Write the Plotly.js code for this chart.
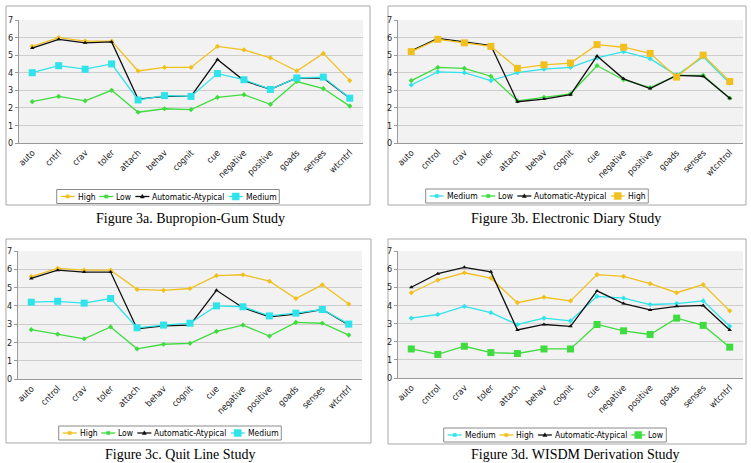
<!DOCTYPE html>
<html>
<head>
<meta charset="utf-8">
<script src="https://cdn.plot.ly/plotly-3.0.1.min.js"></script>
<style>
html,body{margin:0;padding:0;background:#fff;}
#chart{width:751px;height:463px;}
</style>
</head>
<body>
<div id="chart"></div>
<script>
// ---------- data ----------
const catsA = ['auto','cntrl','crav','toler','attach','behav','cognit','cue','negative','positive','goads','senses','wtcntrl'];
const catsB = ['auto','cntrol','crav','toler','attach','behav','cognit','cue','negative','positive','goads','senses','wtcntrol'];
const catsC = ['auto','cntrol','crav','toler','attach','behav','cognit','cue','negative','positive','goads','senses','wtcntrl'];
const catsD = ['auto','cntrol','crav','toler','attach','behav','cognit','cue','negative','positive','goads','senses','wtcntrl'];

// Figure 3a. Bupropion-Gum Study
const aHigh   = [5.5, 6.0, 5.8, 5.8, 4.1, 4.3, 4.3, 5.5, 5.3, 4.85, 4.1, 5.1, 3.55];
const aLow    = [2.35, 2.65, 2.4, 3.0, 1.75, 1.95, 1.9, 2.6, 2.75, 2.2, 3.5, 3.1, 2.1];
const aAuto   = [5.4, 5.9, 5.7, 5.75, 2.5, 2.65, 2.65, 4.75, 3.55, 3.05, 3.7, 3.7, 2.55];
const aMedium = [4.0, 4.4, 4.2, 4.5, 2.45, 2.7, 2.65, 3.95, 3.6, 3.05, 3.7, 3.75, 2.55];

// Figure 3b. Electronic Diary Study
const bMedium = [3.3, 4.05, 4.0, 3.55, 4.0, 4.2, 4.3, 4.85, 5.2, 4.8, 3.85, 4.9, 3.4];
const bLow    = [3.55, 4.3, 4.25, 3.8, 2.4, 2.6, 2.8, 4.4, 3.6, 3.15, 3.85, 3.85, 2.55];
const bAuto   = [5.25, 5.95, 5.75, 5.55, 2.35, 2.5, 2.75, 4.95, 3.65, 3.1, 3.85, 3.8, 2.55];
const bHigh   = [5.2, 5.9, 5.7, 5.5, 4.25, 4.45, 4.55, 5.6, 5.45, 5.1, 3.75, 5.0, 3.5];

// Figure 3c. Quit Line Study
const cHigh   = [5.6, 6.05, 5.95, 5.95, 4.9, 4.85, 4.95, 5.65, 5.7, 5.35, 4.4, 5.15, 4.1];
const cLow    = [2.7, 2.45, 2.2, 2.85, 1.65, 1.9, 1.95, 2.6, 2.95, 2.35, 3.1, 3.05, 2.4];
const cAuto   = [5.5, 5.95, 5.85, 5.85, 2.75, 2.9, 2.95, 4.85, 3.9, 3.4, 3.55, 3.8, 2.95];
const cMedium = [4.2, 4.25, 4.15, 4.4, 2.8, 2.95, 3.05, 4.0, 3.95, 3.45, 3.6, 3.8, 3.0];

// Figure 3d. WISDM Derivation Study
const dMedium = [3.3, 3.5, 3.95, 3.6, 2.95, 3.3, 3.15, 4.5, 4.4, 4.05, 4.1, 4.25, 2.85];
const dHigh   = [4.7, 5.4, 5.8, 5.5, 4.15, 4.45, 4.25, 5.7, 5.6, 5.2, 4.7, 5.15, 3.7];
const dAuto   = [5.0, 5.75, 6.1, 5.85, 2.65, 2.95, 2.85, 4.8, 4.1, 3.75, 3.95, 4.0, 2.65];
const dLow    = [1.6, 1.3, 1.75, 1.4, 1.35, 1.6, 1.6, 2.95, 2.6, 2.4, 3.3, 2.9, 1.7];

const titles = ['Figure 3a. Bupropion-Gum Study','Figure 3b. Electronic Diary Study','Figure 3c. Quit Line Study','Figure 3d. WISDM Derivation Study'];
const nameHigh = 'High', nameLow = 'Low', nameAuto = 'Automatic-Atypical', nameMedium = 'Medium';

// ---------- styles ----------
const W = 751, H = 463;
const COL = {High:'#f2c01e', Low:'#3fdc3f', Auto:'#111111', Medium:'#2fe3ea'};
const SANS = 'DejaVu Sans Condensed, Liberation Sans Narrow, Arial Narrow, Liberation Sans, Arial, sans-serif';
const LEGSIZE = 8.5;

const panels = [
  {cats:catsA, x:[19,363], y:[20,143], frame:[6,6,370,205], leg:{cx:168,cy:196.5}, cap:{x:190,y:218}, xa:'x', ya:'y',
   series:[[nameHigh,aHigh,'High',false],[nameLow,aLow,'Low',false],[nameAuto,aAuto,'Auto',false],[nameMedium,aMedium,'Medium',true]]},
  {cats:catsB, x:[398,743], y:[20,143], frame:[388,6,746,205], leg:{cx:537,cy:196}, cap:{x:566,y:218}, xa:'x2', ya:'y2',
   series:[[nameMedium,bMedium,'Medium',false],[nameLow,bLow,'Low',false],[nameAuto,bAuto,'Auto',false],[nameHigh,bHigh,'High',true]]},
  {cats:catsC, x:[18,362], y:[251,379], frame:[6,239,371,443], leg:{cx:170,cy:433}, cap:{x:180,y:454}, xa:'x3', ya:'y3',
   series:[[nameHigh,cHigh,'High',false],[nameLow,cLow,'Low',false],[nameAuto,cAuto,'Auto',false],[nameMedium,cMedium,'Medium',true]]},
  {cats:catsD, x:[398,743], y:[251,378], frame:[388,239,746,444], leg:{cx:555,cy:435}, cap:{x:575,y:454}, xa:'x4', ya:'y4',
   series:[[nameMedium,dMedium,'Medium',false],[nameHigh,dHigh,'High',false],[nameAuto,dAuto,'Auto',false],[nameLow,dLow,'Low',true]]}
];

const px = v => v / W;
const py = v => 1 - v / H;

const traces = [];
const layout = {
  width: W, height: H,
  margin: {l:0, r:0, t:0, b:0},
  paper_bgcolor: '#ffffff',
  plot_bgcolor: '#f2f2f2',
  showlegend: false,
  shapes: [], annotations: []
};

const ctx = document.createElement('canvas').getContext('2d');
ctx.font = LEGSIZE + 'px ' + SANS;

function markerFor(key, big) {
  if (big) return {symbol:'square', size:7, color:COL[key]};
  if (key === 'Auto') return {symbol:'triangle-up', size:4, color:COL[key]};
  return {symbol:'diamond', size:4, color:COL[key]};
}

panels.forEach((p, i) => {
  const sfx = i === 0 ? '' : String(i + 1);
  p.series.forEach(s => {
    traces.push({
      type:'scatter', mode:'lines+markers', name:s[0],
      x:p.cats, y:s[1], xaxis:p.xa, yaxis:p.ya,
      line:{color:COL[s[2]], width:1.3},
      marker:markerFor(s[2], s[3]),
      hoverinfo:'skip'
    });
  });
  layout['xaxis' + sfx] = {
    domain:[px(p.x[0]), px(p.x[1])], anchor:p.ya, type:'category',
    range:[-0.5, 12.5], tickangle:-45, automargin:false,
    tickfont:{family:SANS, size:9, color:'#222'},
    showgrid:false, zeroline:false, showline:true, linecolor:'#9a9a9a', linewidth:1,
    ticks:'', fixedrange:true
  };
  layout['yaxis' + sfx] = {
    domain:[py(p.y[1]), py(p.y[0])], anchor:p.xa, range:[0, 7], dtick:1,
    tickfont:{family:SANS, size:9, color:'#222'},
    showgrid:true, gridcolor:'#cdcdcd', gridwidth:1, zeroline:false,
    showline:true, linecolor:'#9a9a9a', linewidth:1,
    ticks:'outside', ticklen:3, tickcolor:'#9a9a9a', fixedrange:true
  };
  // outer frame
  layout.shapes.push({type:'rect', xref:'paper', yref:'paper',
    x0:px(p.frame[0]), x1:px(p.frame[2]), y0:py(p.frame[3]), y1:py(p.frame[1]),
    line:{color:'#a8a8a8', width:1}, fillcolor:'rgba(0,0,0,0)', layer:'below'});
  // caption
  layout.annotations.push({xref:'paper', yref:'paper', x:px(p.cap.x), y:py(p.cap.y),
    xanchor:'center', yanchor:'middle', showarrow:false, text:titles[i],
    font:{family:'Liberation Serif, Times New Roman, serif', size:14, color:'#000'}});
  // legend (built from the series names)
  const sample = 14, gapA = 2, gapB = 5, pad = 4;
  const widths = p.series.map(s => ctx.measureText(s[0]).width);
  const total = pad * 2 + widths.reduce((a, w) => a + sample + gapA + w, 0) + gapB * (p.series.length - 1);
  const hgt = 14;
  const left = p.leg.cx - total / 2;
  layout.shapes.push({type:'rect', xref:'paper', yref:'paper',
    x0:px(left), x1:px(left + total), y0:py(p.leg.cy + hgt / 2), y1:py(p.leg.cy - hgt / 2),
    line:{color:'#8a8a8a', width:1}, fillcolor:'#ffffff'});
  let cx = left + pad;
  p.series.forEach((s, k) => {
    const col = COL[s[2]];
    layout.shapes.push({type:'line', xref:'paper', yref:'paper',
      x0:px(cx), x1:px(cx + sample), y0:py(p.leg.cy), y1:py(p.leg.cy),
      line:{color:col, width:1.3}});
    const ms = s[3] ? 3.5 : 1.6;
    const mc = cx + sample / 2;
    if (s[2] === 'Auto' && !s[3]) {
      layout.shapes.push({type:'path', xref:'paper', yref:'paper',
        path:`M${px(mc - 2)},${py(p.leg.cy + 1.5)} L${px(mc + 2)},${py(p.leg.cy + 1.5)} L${px(mc)},${py(p.leg.cy - 2.2)} Z`,
        fillcolor:col, line:{color:col, width:0.5}});
    } else {
      layout.shapes.push({type:'rect', xref:'paper', yref:'paper',
        x0:px(mc - ms), x1:px(mc + ms), y0:py(p.leg.cy + ms), y1:py(p.leg.cy - ms),
        fillcolor:col, line:{color:col, width:0.5}});
    }
    layout.annotations.push({xref:'paper', yref:'paper', x:px(cx + sample + gapA), y:py(p.leg.cy),
      xanchor:'left', yanchor:'middle', showarrow:false, text:s[0],
      font:{family:SANS, size:LEGSIZE, color:'#000'}, borderpad:0});
    cx += sample + gapA + widths[k] + gapB;
  });
});

Plotly.newPlot('chart', traces, layout, {staticPlot:true, displayModeBar:false});
</script>
</body>
</html>
